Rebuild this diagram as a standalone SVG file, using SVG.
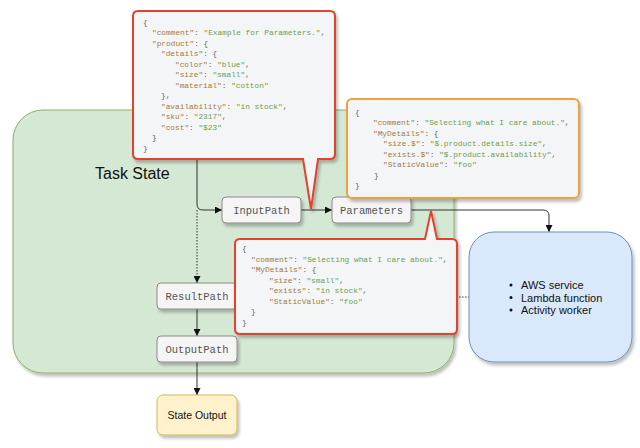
<svg xmlns="http://www.w3.org/2000/svg" width="640" height="448" viewBox="0 0 640 448">
<style>
.js{font-family:"Liberation Mono","DejaVu Sans Mono",monospace;font-size:7.8px;fill:#666}
.k{fill:#a27c3c}
.s{fill:#6e9f47}
.lbl{font-family:"Liberation Mono","Courier New",monospace;font-size:10.5px;fill:#555;text-anchor:middle}
.sans{font-family:"Liberation Sans",Arial,Helvetica,sans-serif}
.node{fill:#f5f5f5;stroke:#8a8a8a;stroke-width:1}
.conn{fill:none;stroke:#333;stroke-width:1}
.dot{stroke-dasharray:1.5,1.5}
.callout{fill:#f4f5f7;stroke-width:2}
</style>
<defs>
<filter id="sh" x="-20%" y="-20%" width="140%" height="140%">
<feDropShadow dx="2" dy="3" stdDeviation="1.5" flood-color="#000" flood-opacity="0.25"/>
</filter>
<marker id="arr" markerUnits="userSpaceOnUse" markerWidth="7" markerHeight="7" refX="7" refY="3.5" orient="auto">
<path d="M0,0 L7,3.5 L0,7 z" fill="#111"/>
</marker>
</defs>
<rect width="640" height="448" fill="#fff"/>

<g id="task-state">
<rect x="13" y="110" width="441" height="263" rx="30" fill="#d5e8d4" stroke="#82b366" stroke-width="1" filter="url(#sh)"/>
<text class="sans" x="95" y="179" font-size="16" fill="#111">Task State</text>
</g>

<g id="connectors">
<path class="conn" d="M197,150 V204 Q197,210 203,210 H222" marker-end="url(#arr)"/>
<path class="conn dot" d="M197,210 V283" marker-end="url(#arr)"/>
<path class="conn" d="M301,210 H332" marker-end="url(#arr)"/>
<path class="conn" d="M411,210 H543 Q549,210 549,216 V232" marker-end="url(#arr)"/>
<path class="conn" d="M197,309 V336" marker-end="url(#arr)"/>
<path class="conn" d="M197,362 V395" marker-end="url(#arr)"/>
<path class="conn dot" d="M237,297 H469"/>
</g>

<g id="input-path">
<rect class="node" x="222" y="197" width="79" height="26" rx="4" filter="url(#sh)"/>
<text class="lbl" x="261.5" y="213.5">InputPath</text>
</g>
<g id="parameters">
<rect class="node" x="332" y="197" width="79" height="26" rx="4" filter="url(#sh)"/>
<text class="lbl" x="371.5" y="213.5">Parameters</text>
</g>
<g id="result-path">
<rect class="node" x="157" y="283" width="80" height="26" rx="4" filter="url(#sh)"/>
<text class="lbl" x="197" y="299.5">ResultPath</text>
</g>
<g id="output-path">
<rect class="node" x="157" y="336" width="80" height="26" rx="4" filter="url(#sh)"/>
<text class="lbl" x="197" y="352.5">OutputPath</text>
</g>
<g id="state-output">
<rect x="157" y="395" width="80" height="40" rx="6" fill="#fff2cc" stroke="#d6b656" stroke-width="1" filter="url(#sh)"/>
<text class="sans" x="197" y="419" font-size="10.5" fill="#111" text-anchor="middle">State Output</text>
</g>

<g id="worker">
<rect x="469" y="232" width="163" height="130" rx="25" fill="#dae8fc" stroke="#6c8ebf" stroke-width="1" filter="url(#sh)"/>
<circle cx="511" cy="285" r="1.5" fill="#111"/>
<circle cx="511" cy="297.5" r="1.5" fill="#111"/>
<circle cx="511" cy="310" r="1.5" fill="#111"/>
<g class="sans" font-size="11" fill="#111">
<text x="521" y="289">AWS service</text>
<text x="521" y="301.5">Lambda function</text>
<text x="521" y="314">Activity worker</text>
</g>
</g>

<g id="input-json">
<path class="callout" stroke="#e5432d" filter="url(#sh)" d="M138,11 H330 Q335,11 335,16 V154 Q335,159 330,159 H318 L311,209 L303,159 H138 Q133,159 133,154 V16 Q133,11 138,11 Z"/>
<g class="js">
<text x="143" y="24.5">{</text>
<text x="152" y="35"><tspan class="k">"comment"</tspan>: <tspan class="s">"Example for Parameters."</tspan>,</text>
<text x="152" y="45.5"><tspan class="k">"product"</tspan>: {</text>
<text x="161" y="56"><tspan class="k">"details"</tspan>: {</text>
<text x="175" y="66.5"><tspan class="k">"color"</tspan>: <tspan class="s">"blue"</tspan>,</text>
<text x="175" y="77"><tspan class="k">"size"</tspan>: <tspan class="s">"small"</tspan>,</text>
<text x="175" y="87.5"><tspan class="k">"material"</tspan>: <tspan class="s">"cotton"</tspan></text>
<text x="161" y="98">},</text>
<text x="161" y="108.5"><tspan class="k">"availability"</tspan>: <tspan class="s">"in stock"</tspan>,</text>
<text x="161" y="119"><tspan class="k">"sku"</tspan>: <tspan class="s">"2317"</tspan>,</text>
<text x="161" y="129.5"><tspan class="k">"cost"</tspan>: <tspan class="s">"$23"</tspan></text>
<text x="152" y="140">}</text>
<text x="143" y="150.5">}</text>
</g>
</g>

<g id="parameters-json">
<rect class="callout" x="347" y="99" width="232" height="99" rx="5" stroke="#f2a03a" filter="url(#sh)"/>
<g class="js">
<text x="355" y="114.5">{</text>
<text x="373" y="125"><tspan class="k">"comment"</tspan>: <tspan class="s">"Selecting what I care about."</tspan>,</text>
<text x="373" y="135.5"><tspan class="k">"MyDetails"</tspan>: {</text>
<text x="383" y="146"><tspan class="k">"size.$"</tspan>: <tspan class="s">"$.product.details.size"</tspan>,</text>
<text x="383" y="156.5"><tspan class="k">"exists.$"</tspan>: <tspan class="s">"$.product.availability"</tspan>,</text>
<text x="383" y="167"><tspan class="k">"StaticValue"</tspan>: <tspan class="s">"foo"</tspan></text>
<text x="374" y="177.5">}</text>
<text x="355" y="188">}</text>
</g>
</g>

<g id="output-json">
<path class="callout" stroke="#e5432d" filter="url(#sh)" d="M240,239 H425 L431,211 L437,239 H452 Q457,239 457,244 V329 Q457,334 452,334 H240 Q235,334 235,329 V244 Q235,239 240,239 Z"/>
<g class="js">
<text x="242" y="251">{</text>
<text x="251" y="261.5"><tspan class="k">"comment"</tspan>: <tspan class="s">"Selecting what I care about."</tspan>,</text>
<text x="251" y="272"><tspan class="k">"MyDetails"</tspan>: {</text>
<text x="269" y="282.5"><tspan class="k">"size"</tspan>: <tspan class="s">"small"</tspan>,</text>
<text x="269" y="293"><tspan class="k">"exists"</tspan>: <tspan class="s">"in stock"</tspan>,</text>
<text x="269" y="303.5"><tspan class="k">"StaticValue"</tspan>: <tspan class="s">"foo"</tspan></text>
<text x="251" y="314">}</text>
<text x="242" y="324.5">}</text>
</g>
</g>
</svg>
